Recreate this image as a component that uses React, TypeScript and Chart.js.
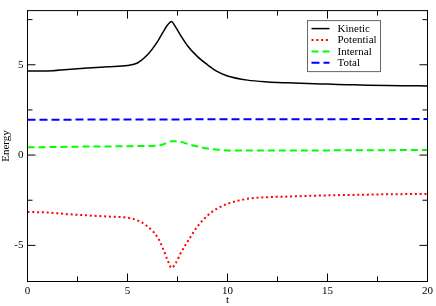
import React, { useEffect, useRef } from "react";
import { Chart, registerables } from "chart.js";

Chart.register(...registerables);

const tValues = [0, 1, 2, 3, 4, 5, 5.5, 6, 6.5, 6.8, 7.0, 7.2, 7.4, 7.7, 8.0, 8.5, 9.0, 9.5, 10, 11, 12, 13, 14, 15, 16, 17, 18, 19, 20];
const kinetic = [4.66, 4.66, 4.74, 4.82, 4.89, 4.96, 5.1, 5.55, 6.28, 6.85, 7.2, 7.4, 7.1, 6.55, 6.05, 5.45, 5.0, 4.62, 4.38, 4.15, 4.05, 4.0, 3.96, 3.93, 3.9, 3.87, 3.85, 3.84, 3.83];
const potential = [-3.15, -3.18, -3.27, -3.34, -3.4, -3.47, -3.62, -3.95, -4.55, -5.25, -5.8, -6.25, -6.0, -5.35, -4.8, -3.95, -3.35, -2.95, -2.7, -2.42, -2.33, -2.3, -2.26, -2.23, -2.21, -2.19, -2.17, -2.16, -2.15];
const internal = [0.43, 0.44, 0.46, 0.47, 0.48, 0.49, 0.5, 0.5, 0.52, 0.6, 0.7, 0.76, 0.76, 0.72, 0.62, 0.48, 0.36, 0.3, 0.26, 0.25, 0.25, 0.26, 0.26, 0.26, 0.27, 0.27, 0.27, 0.28, 0.28];
const total = [1.96, 1.96, 1.96, 1.97, 1.97, 1.97, 1.97, 1.97, 1.97, 1.97, 1.97, 1.97, 1.97, 1.97, 1.98, 1.98, 1.98, 1.98, 1.98, 1.98, 1.99, 1.99, 1.99, 1.99, 1.99, 2.0, 2.0, 2.0, 2.0];
const seriesLabels = ["Kinetic", "Potential", "Internal", "Total"];
const xTickValues = [0, 5, 10, 15, 20];
const xMinorValues = [2.5, 7.5, 12.5, 17.5];
const yTickValues = [-5, 0, 5];
const yMinorValues = [-2.5, 2.5, 7.5];

const FONT = "'Liberation Serif', 'DejaVu Serif', serif";

const framePlugin = {
  id: "frame",
  afterDatasetsDraw(chart: any) {
    const { ctx, chartArea: a, scales } = chart;
    const xs = scales.x;
    const ys = scales.y;
    ctx.save();
    ctx.strokeStyle = "#000";
    ctx.lineWidth = 1;
    ctx.strokeRect(a.left, a.top, a.right - a.left, a.bottom - a.top);
    ctx.beginPath();
    const xt = (v: number, len: number) => {
      const p = xs.getPixelForValue(v);
      ctx.moveTo(p, a.bottom);
      ctx.lineTo(p, a.bottom - len);
      ctx.moveTo(p, a.top);
      ctx.lineTo(p, a.top + len);
    };
    const yt = (v: number, len: number) => {
      const p = ys.getPixelForValue(v);
      ctx.moveTo(a.left, p);
      ctx.lineTo(a.left + len, p);
      ctx.moveTo(a.right, p);
      ctx.lineTo(a.right - len, p);
    };
    xTickValues.forEach((v) => xt(v, 8));
    xMinorValues.forEach((v) => xt(v, 5));
    yTickValues.forEach((v) => yt(v, 8));
    yMinorValues.forEach((v) => yt(v, 5));
    ctx.stroke();

    // legend
    const bx = a.right - 120;
    const by = a.top + 10;
    const bw = 73;
    const bh = 51;
    ctx.fillStyle = "#fff";
    ctx.fillRect(bx, by, bw, bh);
    ctx.strokeStyle = "#666";
    ctx.strokeRect(bx, by, bw, bh);
    ctx.font = "11px " + FONT;
    ctx.textBaseline = "middle";
    ctx.textAlign = "left";
    chart.data.datasets.forEach((ds: any, i: number) => {
      const y = by + 8 + i * 11.4;
      ctx.save();
      ctx.strokeStyle = ds.borderColor;
      ctx.lineWidth = ds.borderWidth;
      ctx.setLineDash(ds.borderDash || []);
      ctx.beginPath();
      ctx.moveTo(bx + 4, y);
      ctx.lineTo(bx + 22, y);
      ctx.stroke();
      ctx.restore();
      ctx.fillStyle = "#000";
      ctx.fillText(ds.label, bx + 30, y + 0.5);
    });
    ctx.restore();
  },
};

export default function App() {
  const ref = useRef<HTMLCanvasElement>(null);
  useEffect(() => {
    document.body.style.margin = "0";
    const mk = (arr: number[]) => tValues.map((t, i) => ({ x: t, y: arr[i] }));
    const chart = new Chart(ref.current!, {
      type: "scatter",
      data: {
        datasets: [
          { label: seriesLabels[0], data: mk(kinetic), borderColor: "#000000", borderWidth: 1.5, borderDash: [] },
          { label: seriesLabels[1], data: mk(potential), borderColor: "#ff0000", borderWidth: 2, borderDash: [2, 2.8] },
          { label: seriesLabels[2], data: mk(internal), borderColor: "#00ff00", borderWidth: 2, borderDash: [7, 4] },
          { label: seriesLabels[3], data: mk(total), borderColor: "#0000ff", borderWidth: 2, borderDash: [8, 4] },
        ].map((d) => ({
          ...d,
          showLine: true,
          pointRadius: 0,
          pointHoverRadius: 0,
          fill: false,
          cubicInterpolationMode: "monotone" as const,
          backgroundColor: d.borderColor,
        })),
      },
      options: {
        responsive: false,
        animation: false,
        events: [],
        layout: { padding: { top: 1.5, right: 7.5, left: 0, bottom: 0 } },
        plugins: { legend: { display: false }, tooltip: { enabled: false } },
        scales: {
          x: {
            type: "linear",
            min: 0,
            max: 20,
            afterBuildTicks: (s: any) => {
              s.ticks = xTickValues.map((v) => ({ value: v }));
            },
            afterFit: (s: any) => {
              s.height = 24.5;
            },
            grid: { display: false, drawTicks: false },
            border: { display: false },
            ticks: { color: "#000", font: { family: FONT, size: 11 }, padding: 3, maxRotation: 0, autoSkip: false },
            title: { display: true, text: "t", color: "#000", font: { family: FONT, size: 11, lineHeight: 1 }, padding: { top: 0, bottom: 0 } },
          },
          y: {
            type: "linear",
            min: -7,
            max: 8,
            afterBuildTicks: (s: any) => {
              s.ticks = yTickValues.map((v) => ({ value: v }));
            },
            afterFit: (s: any) => {
              s.width = 27.5;
            },
            grid: { display: false, drawTicks: false },
            border: { display: false },
            ticks: { color: "#000", font: { family: FONT, size: 11 }, padding: 4, autoSkip: false },
            title: { display: true, text: "Energy", color: "#000", font: { family: FONT, size: 11, lineHeight: 1 }, padding: { top: 0.5, bottom: 0 } },
          },
        },
      },
      plugins: [framePlugin],
    });
    return () => chart.destroy();
  }, []);
  return (
    <div style={{ position: "fixed", left: 0, top: 0, width: 436, height: 306 }}>
      <canvas ref={ref} width={436} height={306} style={{ display: "block", width: 436, height: 306 }} />
    </div>
  );
}
